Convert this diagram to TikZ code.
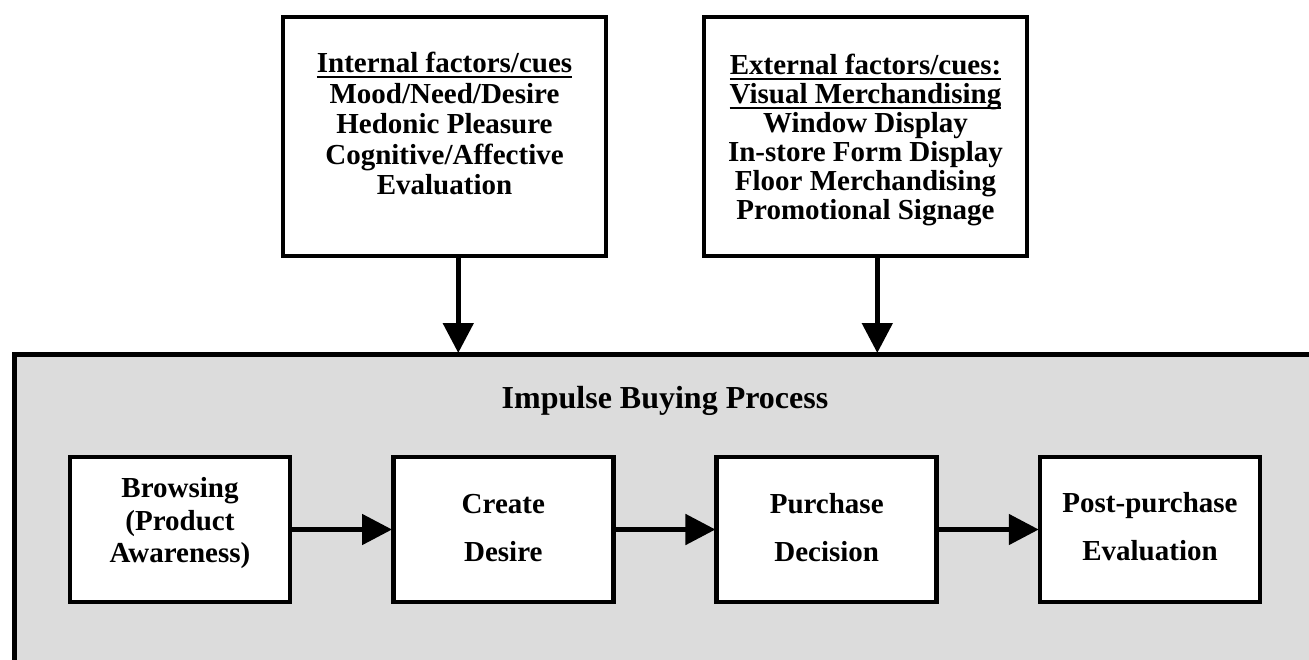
\documentclass[tikz,border=0pt]{standalone}
\usepackage{fontspec}
\setmainfont{Liberation Serif}
\usetikzlibrary{arrows.meta,calc}
\definecolor{procgray}{RGB}{220,220,220}
% underline drawn just under the baseline, crossing descenders
\newcommand{\ulrule}[1]{\setbox0\hbox{#1}\rlap{\rule[-5pt]{\wd0}{1.6pt}}\box0}
\tikzset{
  heavy/.style={draw=black, line width=4.5pt},
  cuebox/.style={heavy, fill=white, minimum width=323pt, minimum height=239pt, inner sep=0pt},
  stagebox/.style={heavy, fill=white, minimum width=220pt, minimum height=145pt, inner sep=0pt},
  stagetext/.style={align=center, inner sep=0pt, anchor=north, font=\bfseries\fontsize{29}{48}\selectfont},
  cuetext/.style={align=center, inner sep=0pt, anchor=north},
  flow/.style={line width=5pt, -{Triangle[length=30pt,width=30pt]}, shorten >=-1pt}
}
\begin{document}
\begin{tikzpicture}[x=1pt,y=-1pt]
\useasboundingbox (0,0) rectangle (1309,659);
\clip (0,0) rectangle (1309,659);

% grey frame holding the four stages
\node[heavy, fill=procgray, minimum width=1330pt, minimum height=340pt, inner sep=0pt, anchor=north west]
  (proc) at (12,352) {};
\node[font=\bfseries\fontsize{32}{34}\selectfont, inner sep=0pt, anchor=north] (proctitle) at (665,386.5) {Impulse Buying Process};

% cue boxes
\node[cuebox] (intbox) at (444.5,136.5) {};
\node[cuetext, font=\bfseries\fontsize{29}{30.5}\selectfont] (inttext) at (444.5,52)
  {\ulrule{Internal factors/cues}\\Mood/Need/Desire\\Hedonic Pleasure\\Cognitive/Affective\\Evaluation};

\node[cuebox] (extbox) at (865.5,136.5) {};
\node[cuetext, font=\bfseries\fontsize{29}{29}\selectfont] (exttext) at (865.5,54)
  {\ulrule{External factors/cues:}\\\ulrule{Visual Merchandising}\\Window Display\\In-store Form Display\\Floor Merchandising\\Promotional Signage};

% stages
\node[stagebox] (browse) at (180,529.5) {};
\node[stagetext, font=\bfseries\fontsize{29}{32.5}\selectfont] (browsetext) at (180,477.5) {Browsing\\(Product\\Awareness)};
\node[stagebox] (desire) at (503.3,529.5) {};
\node[stagetext] (desiretext) at (503.3,494) {Create\\Desire};
\node[stagebox] (decide) at (826.7,529.5) {};
\node[stagetext] (decidetext) at (826.7,493.5) {Purchase\\Decision};
\node[stagebox] (post) at (1150,529.5) {};
\node[stagetext] (posttext) at (1150,492) {Post-purchase\\Evaluation};

% influences of the cues
\coordinate (intfoot) at ($(intbox.south west)!0.542!(intbox.south east)$);
\coordinate (extfoot) at ($(extbox.south west)!0.536!(extbox.south east)$);
\draw[flow] (intfoot) -- (intfoot |- proc.north);
\draw[flow] (extfoot) -- (extfoot |- proc.north);

% stage sequence
\draw[flow] (browse.east) -- (desire.west);
\draw[flow] (desire.east) -- (decide.west);
\draw[flow] (decide.east) -- (post.west);
\end{tikzpicture}
\end{document}
